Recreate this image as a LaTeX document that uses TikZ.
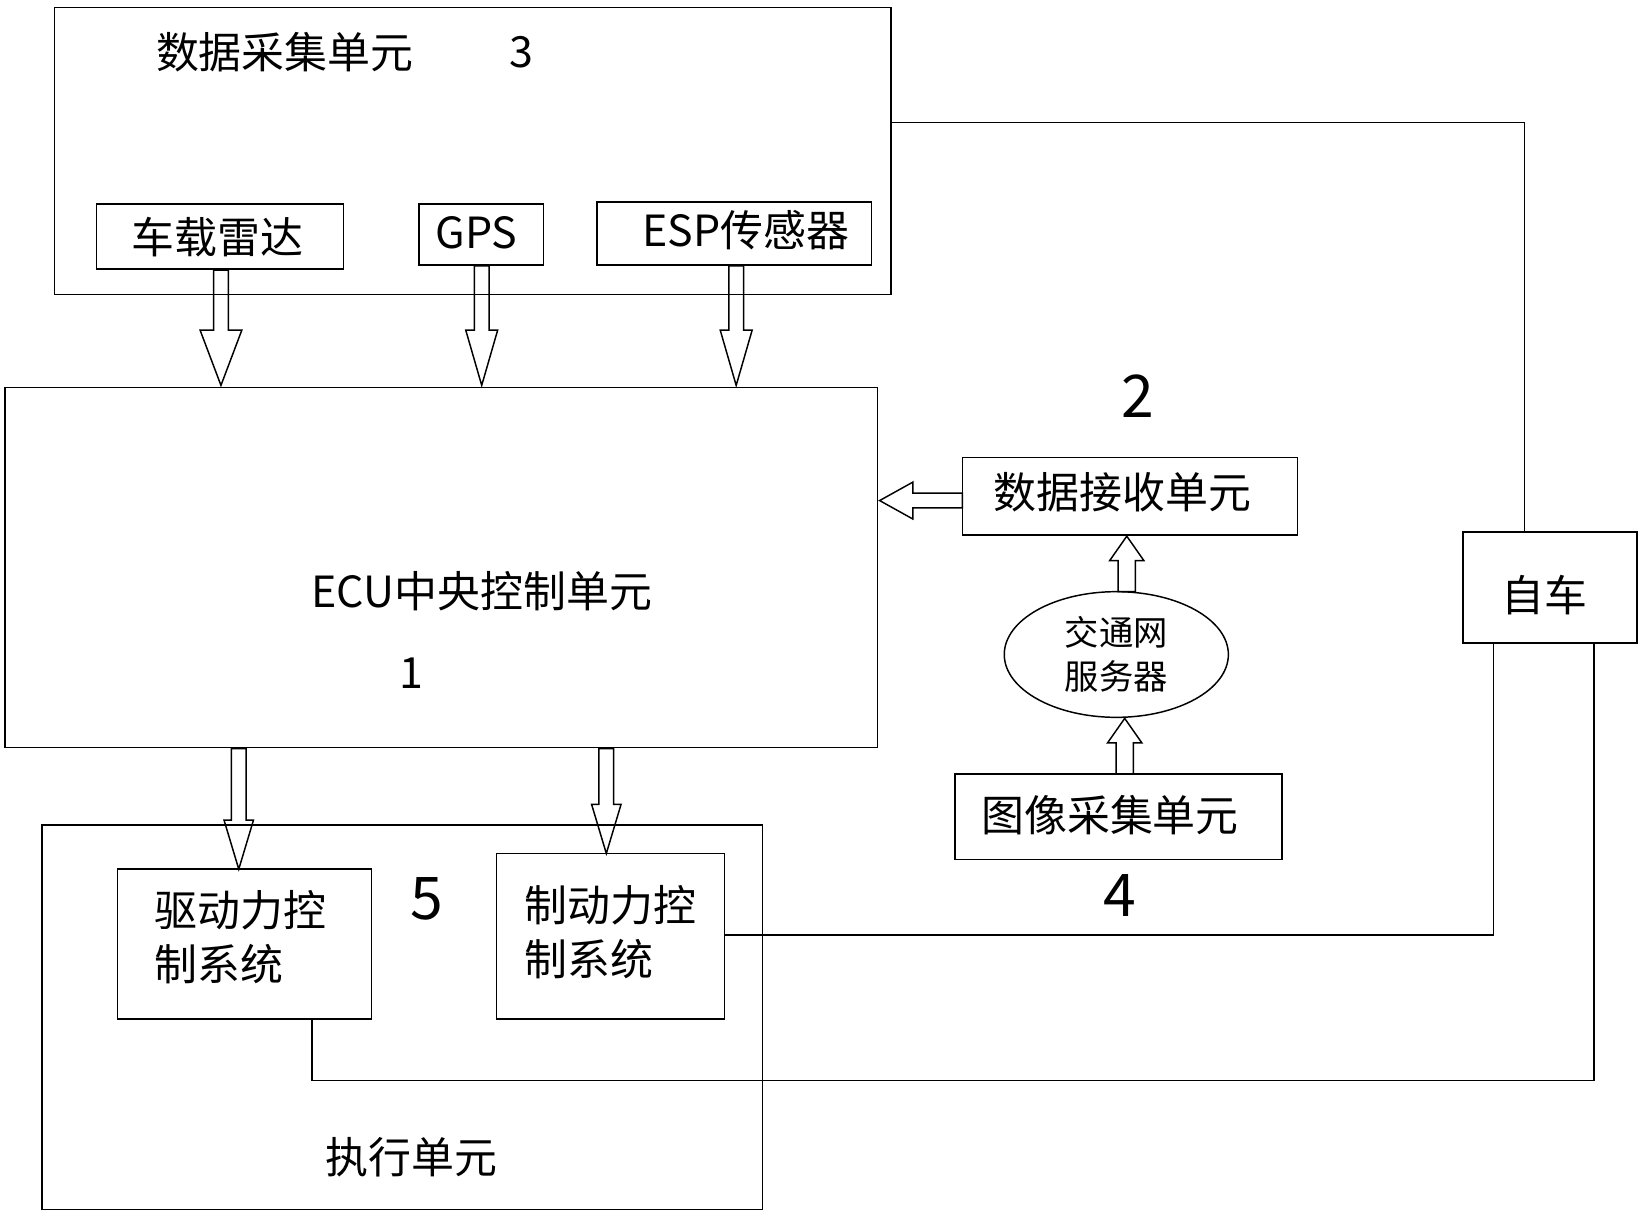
\documentclass[tikz,border=0pt]{standalone}
\usepackage{fontspec}
\setmainfont{Noto Sans CJK SC}
\usetikzlibrary{calc,shapes.geometric}
\newcommand\harrow[5]{% from, to, shaft half, head half, head length (pt)
\path (#1) coordinate (hs) (#2) coordinate (he);
\draw[line width=1.2pt] let \p1=($(he)-(hs)$), \n1={atan2(\y1,\x1)}, \n2={veclen(\x1,\y1)} in
 [shift={(hs)}, rotate=\n1] (0pt,-#3pt) -- (\n2-#5pt,-#3pt) -- (\n2-#5pt,-#4pt) -- (\n2,0pt) -- (\n2-#5pt,#4pt) -- (\n2-#5pt,#3pt) -- (0pt,#3pt) -- cycle;}
\begin{document}
\begin{tikzpicture}[x=0.03cm,y=-0.03cm,
 box/.style={draw,line width=1.2pt},
 t/.style={font=\fontsize{35}{44}\selectfont,inner sep=0pt},
 big/.style={font=\fontsize{48}{52}\selectfont,inner sep=0pt},
 ln/.style={line width=1.2pt}]
\useasboundingbox (0,0) rectangle (1568,1162);
% data collection
\draw[box] (52,7) rectangle (851,281) coordinate (dc);
\node[t] (dct) at (272,50) {数据采集单元};
\node[t] (n3) at (498,50) {3};
\draw[box] (92,195) rectangle (328,257); \node[t] (radar) at (208,226) {车载雷达};
\draw[box] (400,195) rectangle (519,253); \node[t] (gps) at (455,222) {GPS};
\draw[box] (570,193) rectangle (832,253); \node[t] (esp) at (712,220) {ESP传感器};
% ECU
\draw[box] (5,370) rectangle (838,714);
\node[t] (ecu) at (460,565) {ECU中央控制单元};
\node[t] (n1) at (393,643) {1};
\coordinate (a1s) at (211,258); \coordinate (a1e) at (211,368);
\coordinate (a2s) at (460,254); \coordinate (a2e) at (460,368);
\coordinate (a3s) at (703,254); \coordinate (a3e) at (703,368);
\harrow{a1s}{a1e}{6}{17}{45}
\harrow{a2s}{a2e}{6}{13}{45}
\harrow{a3s}{a3e}{6}{13}{45}
% receive
\node[big] (n2) at (1087,378) {2};
\draw[box] (919,437) rectangle (1239,511); \node[t] (rcv) at (1072,470) {数据接收单元};
\coordinate (r1) at (919,478); \coordinate (r2) at (840,478);
\harrow{r1}{r2}{6}{15}{27}
\node[draw,ellipse,line width=1.2pt,minimum width=214*0.03cm,minimum height=120*0.03cm,align=center,font=\fontsize{28}{36}\selectfont,inner sep=0pt] (srv) at (1066,625) {交通网\\服务器};
\coordinate (s1) at (1076,565); \coordinate (s2) at (1076,512);
\harrow{s1}{s2}{7}{14}{20}
\draw[box] (912,739) rectangle (1224,821); \node[t] (img) at (1060,778) {图像采集单元};
\coordinate (i1) at (1074,739); \coordinate (i2) at (1074,686);
\harrow{i1}{i2}{7}{14}{20}
\node[big] (n4) at (1069,855) {4};
% self car
\draw[box] (1397,508) rectangle (1563,614); \node[t] (car) at (1475,568) {自车};
\draw[ln] (851,117) -- (1456,117) -- (1456,508);
% execution
\draw[box] (40,788) rectangle (728,1155);
\node[t] (exe) at (393,1105) {执行单元};
\node[big] (n5) at (408,858) {5};
\draw[box] (112,830) rectangle (355,973);
\node[t,align=left] (drv) at (230,895) {驱动力控\\制系统};
\draw[box] (474,815) rectangle (692,973);
\node[t,align=left] (brk) at (583,890) {制动力控\\制系统};
\coordinate (e1s) at (228,715); \coordinate (e1e) at (228,830);
\coordinate (e2s) at (579,715); \coordinate (e2e) at (579,815);
\harrow{e1s}{e1e}{6}{12}{40}
\harrow{e2s}{e2e}{6}{12}{40}
\draw[ln] (692,893) -- (1426,893) -- (1426,614);
\draw[ln] (298,973) -- (298,1032) -- (1522,1032) -- (1522,614);
\end{tikzpicture}
\end{document}
